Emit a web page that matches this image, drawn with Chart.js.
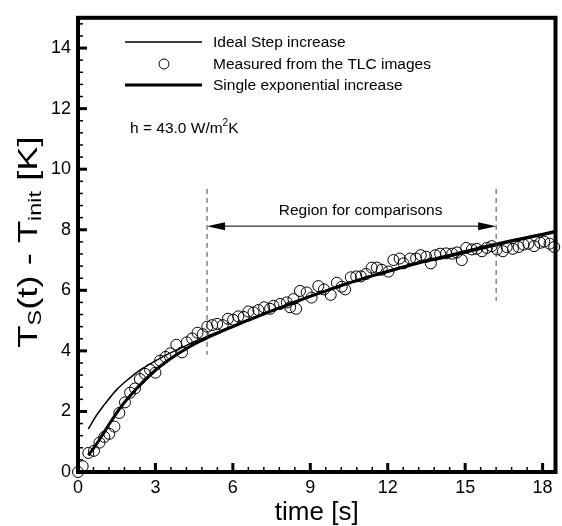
<!DOCTYPE html>
<html>
<head>
<meta charset="utf-8">
<script src="https://cdn.jsdelivr.net/npm/chart.js@4/dist/chart.umd.min.js"></script>
<style>
  body { margin: 0; background: #fff; }
</style>
</head>
<body>
<canvas id="myChart" width="562" height="526"></canvas>
<script>
// measured points (open circles)
const measuredTime = [0, 0.18, 0.4, 0.62, 0.83, 1.02, 1.21, 1.41, 1.6, 1.82, 2.02, 2.21, 2.4, 2.6, 2.79,
  3.0, 3.18, 3.39, 3.58, 3.81, 4.03, 4.21, 4.42, 4.63, 4.83, 5.01, 5.2, 5.39, 5.61, 5.81,
  6.01, 6.21, 6.42, 6.6, 6.8, 6.99, 7.21, 7.44, 7.57, 7.83, 8.09, 8.22, 8.35, 8.45, 8.6,
  8.86, 9.05, 9.31, 9.53, 9.79, 10.03, 10.22, 10.35, 10.57, 10.78, 10.96, 11.16, 11.38, 11.58, 11.77,
  12.03, 12.22, 12.46, 12.61, 12.87, 13.1, 13.28, 13.49, 13.67, 13.84, 14.03, 14.26, 14.5, 14.68, 14.87,
  15.04, 15.26, 15.45, 15.65, 15.84, 16.03, 16.23, 16.46, 16.61, 16.85, 17.07, 17.26, 17.45, 17.67, 17.91,
  18.06, 18.27, 18.45];
const measuredTemp = [0, 0.19, 0.63, 0.7, 0.97, 1.16, 1.26, 1.5, 1.95, 2.3, 2.62, 2.76, 3.07, 3.24, 3.38,
  3.28, 3.68, 3.8, 3.92, 4.2, 3.95, 4.28, 4.41, 4.6, 4.55, 4.8, 4.85, 4.89, 4.85, 5.06,
  5.03, 5.14, 5.12, 5.3, 5.27, 5.35, 5.44, 5.39, 5.49, 5.55, 5.6, 5.44, 5.71, 5.39, 5.98,
  5.93, 5.76, 6.14, 6.03, 5.85, 6.25, 6.12, 6.03, 6.43, 6.46, 6.46, 6.54, 6.75, 6.75, 6.68,
  6.62, 7.0, 7.05, 6.89, 7.05, 7.05, 7.16, 7.11, 6.89, 7.16, 7.21, 7.22, 7.21, 7.25, 7.0,
  7.4, 7.35, 7.37, 7.29, 7.4, 7.46, 7.35, 7.29, 7.43, 7.37, 7.43, 7.51, 7.54, 7.46, 7.57,
  7.61, 7.54, 7.43];

// ideal step increase (thin line)
const stepTime = [0.4, 0.7, 1.0, 1.5, 2.0, 2.5, 3.0, 3.5, 4.0, 4.5, 5.0, 5.5, 6.0, 7.0, 8.0, 9.0,
  10.0, 11.0, 12.0, 13.0, 14.0, 15.0, 16.0, 17.0, 18.0, 18.5];
const stepTemp = [1.42, 1.85, 2.2, 2.72, 3.1, 3.42, 3.67, 3.9, 4.1, 4.3, 4.48, 4.66, 4.83, 5.17, 5.5, 5.82,
  6.12, 6.4, 6.65, 6.89, 7.1, 7.31, 7.51, 7.7, 7.88, 7.98];

// single exponential increase (thick line)
const expTime = [0.4, 0.7, 1.0, 1.3, 1.6, 2.0, 2.5, 3.0, 3.5, 4.0, 4.5, 5.0, 5.5, 6.0, 6.5, 7.0, 7.5,
  8.0, 8.5, 9.0, 9.5, 10.0, 10.5, 11.0, 11.5, 12.0, 12.5, 13.0, 13.5, 14.0, 14.5, 15.0, 15.5,
  16.0, 16.5, 17.0, 17.5, 18.0, 18.5];
const expTemp = [0.55, 0.9, 1.3, 1.7, 2.08, 2.5, 2.96, 3.36, 3.69, 3.97, 4.22, 4.43, 4.62, 4.8, 4.98, 5.15, 5.32,
  5.48, 5.64, 5.8, 5.95, 6.1, 6.24, 6.37, 6.5, 6.62, 6.74, 6.86, 6.97, 7.06, 7.16, 7.26, 7.36,
  7.46, 7.56, 7.66, 7.75, 7.84, 7.93];

const regionStart = 5.0;
const regionEnd = 16.2;
const labels = ['Ideal Step increase', 'Measured from the TLC images', 'Single exponential increase'];

const ctx = document.getElementById('myChart');
const FONT = "'Liberation Sans', Arial, sans-serif";

function pts(xs, ys) {
    return xs.map((t, i) => ({x: t, y: ys[i]}));
}

function seg(c, x1, y1, x2, y2, w) {
    c.lineWidth = w;
    c.beginPath();
    c.moveTo(x1, y1);
    c.lineTo(x2, y2);
    c.stroke();
}

// inward ticks + frame
const frameTicks = {
    id: 'frameTicks',
    afterDatasetsDraw(chart) {
        const {ctx: c, chartArea: a, scales: {x, y}} = chart;
        c.save();
        c.strokeStyle = '#000';
        for (let v = 0; v <= 18.5; v += 0.6) {
            const px = x.getPixelForValue(v);
            if (Math.abs(v / 3 - Math.round(v / 3)) < 0.01) continue;
            seg(c, px, a.bottom, px, a.bottom - 5, 1.5);
        }
        for (let v = 0; v <= 18; v += 3) {
            const px = x.getPixelForValue(v);
            seg(c, px, a.bottom, px, a.bottom - 9, 3);
        }
        for (let v = 0; v <= 15; v += 0.4) {
            if (Math.abs(v / 2 - Math.round(v / 2)) < 0.01) continue;
            const py = y.getPixelForValue(v);
            seg(c, a.left, py, a.left + 5, py, 1.5);
        }
        for (let v = 0; v <= 14; v += 2) {
            const py = y.getPixelForValue(v);
            seg(c, a.left, py, a.left + 9, py, 3);
        }
        c.lineWidth = 4;
        c.strokeRect(a.left, a.top, a.right - a.left, a.bottom - a.top);
        c.restore();
    },
    afterDraw(chart) {
        const {ctx: c, scales: {x, y}} = chart;
        c.save();
        c.fillStyle = '#000';
        c.strokeStyle = '#000';

        // legend
        c.font = '15.5px ' + FONT;
        c.textBaseline = 'middle';
        c.textAlign = 'left';
        const ly = [42, 64, 85];
        seg(c, 125, ly[0], 202, ly[0], 1.5);
        c.lineWidth = 1;
        c.beginPath();
        c.arc(164, ly[1], 5, 0, Math.PI * 2);
        c.stroke();
        seg(c, 125, ly[2], 202, ly[2], 3);
        labels.forEach((t, i) => c.fillText(t, 213, ly[i] + 1));

        // h = 43.0 W/m2K
        let hx = 130;
        const hy = 129;
        c.fillText('h = 43.0 W/m', hx, hy);
        hx += c.measureText('h = 43.0 W/m').width;
        c.font = '10px ' + FONT;
        c.fillText('2', hx, hy - 6);
        hx += c.measureText('2').width;
        c.font = '15.5px ' + FONT;
        c.fillText('K', hx, hy);

        // region for comparisons
        const xl = x.getPixelForValue(regionStart);
        const xr = x.getPixelForValue(regionEnd);
        c.strokeStyle = '#444';
        c.setLineDash([5, 4]);
        seg(c, xl, y.getPixelForValue(9.35), xl, y.getPixelForValue(3.87), 1);
        seg(c, xr, y.getPixelForValue(9.35), xr, y.getPixelForValue(5.65), 1);
        c.setLineDash([]);
        c.strokeStyle = '#000';
        const ay = y.getPixelForValue(8.12);
        seg(c, xl + 16, ay, xr - 16, ay, 1);
        c.beginPath();
        c.moveTo(xl, ay); c.lineTo(xl + 18, ay - 4); c.lineTo(xl + 18, ay + 4); c.closePath();
        c.moveTo(xr, ay); c.lineTo(xr - 18, ay - 4); c.lineTo(xr - 18, ay + 4); c.closePath();
        c.fill();
        c.textAlign = 'center';
        c.fillText('Region for comparisons', (xl + xr) / 2 + 9, ay - 15);

        // y title with subscripts (stretched along its baseline like the original)
        const big = '28px ' + FONT, small = '18px ' + FONT;
        const parts = [['T', big, 0], ['S', small, 7], ['(t) - T', big, 0], ['init', small, 7], [' [K]', big, 0]];
        let total = 0;
        parts.forEach(p => { c.font = p[1]; total += c.measureText(p[0]).width; });
        c.translate(29, 242);
        c.rotate(-Math.PI / 2);
        c.scale(1.3, 1);
        c.textAlign = 'left';
        let px = -total / 2;
        parts.forEach(p => {
            c.font = p[1];
            c.fillText(p[0], px, p[2]);
            px += c.measureText(p[0]).width;
        });
        c.restore();
    }
};

new Chart(ctx, {
    type: 'scatter',
    data: {
        datasets: [{
            label: labels[0],
            data: pts(stepTime, stepTemp),
            showLine: true,
            borderColor: '#000',
            borderWidth: 1.5,
            pointRadius: 0,
            cubicInterpolationMode: 'monotone'
        }, {
            label: labels[2],
            data: pts(expTime, expTemp),
            showLine: true,
            borderColor: '#000',
            borderWidth: 3,
            pointRadius: 0,
            cubicInterpolationMode: 'monotone'
        }, {
            label: labels[1],
            data: pts(measuredTime, measuredTemp),
            pointRadius: 5.5,
            pointBorderWidth: 1,
            borderColor: '#000',
            backgroundColor: 'rgba(0,0,0,0)',
            clip: false
        }]
    },
    options: {
        responsive: false,
        animation: false,
        layout: { padding: { top: 7, right: 6, left: 0, bottom: 0 } },
        plugins: { legend: { display: false }, tooltip: { enabled: false } },
        scales: {
            x: {
                type: 'linear',
                min: 0,
                max: 18.5,
                grid: { display: false, drawTicks: false },
                border: { display: false },
                ticks: { stepSize: 3, includeBounds: false, padding: 5, color: '#000', font: { family: FONT, size: 18 } },
                title: { display: true, text: 'time [s]', color: '#000', font: { family: FONT, size: 26, lineHeight: 1 }, padding: { top: 0, bottom: 0 } },
                afterFit(s) { s.height = 54; }
            },
            y: {
                min: 0,
                max: 15,
                grid: { display: false, drawTicks: false },
                border: { display: false },
                ticks: { stepSize: 2, includeBounds: false, padding: 7, color: '#000', font: { family: FONT, size: 18 } },
                afterFit(s) { s.width = 78; }
            }
        }
    },
    plugins: [frameTicks]
});
</script>
</body>
</html>
